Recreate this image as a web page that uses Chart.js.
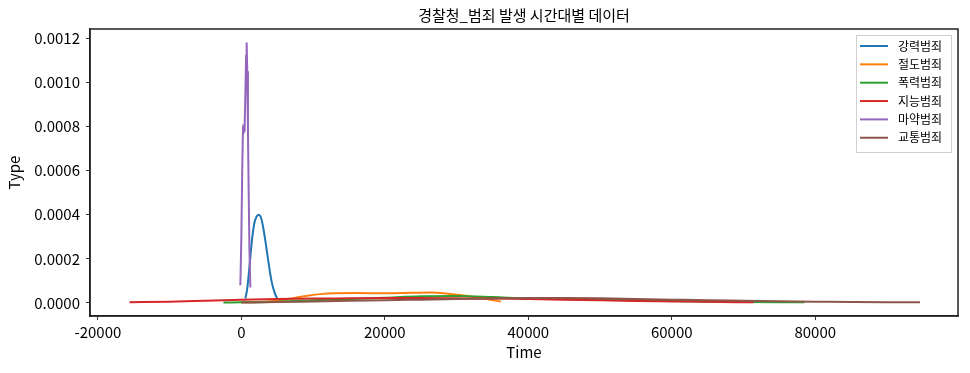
<!DOCTYPE html>
<html>
<head>
<meta charset="utf-8">
<script src="https://cdn.jsdelivr.net/npm/chart.js@4.4.1/dist/chart.umd.min.js"></script>
<style>
  html, body { margin: 0; padding: 0; background: #fff; }
  #wrap { width: 970px; height: 373px; }
</style>
</head>
<body>
<div id="wrap"><canvas id="c" width="970" height="373"></canvas></div>
<script>
// ---- Data ----
const chartTitle = '경찰청_범죄 발생 시간대별 데이터';
const xAxisTitle = 'Time';
const yAxisTitle = 'Type';
const seriesNames = ['강력범죄', '절도범죄', '폭력범죄', '지능범죄', '마약범죄', '교통범죄'];
const seriesColors = ['#1f77b4', '#ff7f0e', '#2ca02c', '#d62728', '#9467bd', '#8c564b'];
const xTickValues = [-20000, 0, 20000, 40000, 60000, 80000];
const yTickValues = [0, 0.0002, 0.0004, 0.0006, 0.0008, 0.0010, 0.0012];

const violentX = [560, 800, 1000, 1200, 1500, 1800, 2100, 2400, 2700, 3000, 3400, 3800, 4200, 4600, 5000, 5300];
const violentY = [0.00002, 0.00006, 0.00012, 0.00019, 0.00029, 0.00036, 0.00039, 0.00040, 0.00039, 0.00035, 0.00027, 0.00018, 0.00010, 0.00005, 0.00002, 0.00001];

const theftX = [0, 3000, 5000, 7000, 9000, 11000, 13000, 16000, 20000, 24000, 26500, 28500, 30500, 32500, 34500, 36200];
const theftY = [0.000003, 0.000005, 0.00001, 0.00002, 0.000032, 0.00004, 0.000044, 0.000045, 0.000044, 0.000046, 0.000047, 0.000043, 0.000036, 0.000027, 0.000016, 0.000006];

const assaultX = [-2500, 5000, 10000, 15000, 20000, 25000, 30000, 35000, 40000, 45000, 50000, 55000, 60000, 65000, 70000, 75000, 78500];
const assaultY = [0.000002, 0.000006, 0.000012, 0.000018, 0.000024, 0.00003, 0.000032, 0.000027, 0.00002, 0.000018, 0.000015, 0.000012, 0.000009, 0.000006, 0.000004, 0.000003, 0.000003];

const fraudX = [-15600, -10000, -5000, 0, 5000, 10000, 15000, 20000, 25000, 30000, 35000, 40000, 45000, 50000, 55000, 60000, 65000, 71400];
const fraudY = [0.000003, 0.000006, 0.00001, 0.000014, 0.000018, 0.00002, 0.000021, 0.000022, 0.000022, 0.000021, 0.00002, 0.000018, 0.000015, 0.000012, 0.000009, 0.000007, 0.000005, 0.000003];

const drugX = [-140, 0, 120, 230, 260, 330, 400, 460, 560, 660, 740, 820, 920, 1020, 1120, 1260];
const drugY = [0.00008, 0.00030, 0.00060, 0.00080, 0.00081, 0.00077, 0.00078, 0.00080, 0.00095, 0.00112, 0.00118, 0.00105, 0.00078, 0.00050, 0.00025, 0.00007];

const trafficX = [0, 5000, 10000, 15000, 20000, 25000, 30000, 35000, 40000, 45000, 50000, 55000, 60000, 65000, 70000, 75000, 80000, 85000, 90000, 94600];
const trafficY = [0.000002, 0.000004, 0.000007, 0.00001, 0.000012, 0.000015, 0.000018, 0.00002, 0.000022, 0.000022, 0.000021, 0.000018, 0.000015, 0.000012, 0.00001, 0.000008, 0.000006, 0.000004, 0.000003, 0.000003];

const seriesX = [violentX, theftX, assaultX, fraudX, drugX, trafficX];
const seriesY = [violentY, theftY, assaultY, fraudY, drugY, trafficY];

// ---- Build ----
const FONT = "'Noto Sans CJK KR', 'Noto Sans', sans-serif";
const datasets = seriesNames.map((name, i) => ({
  label: name,
  data: seriesX[i].map((x, k) => ({ x: x, y: seriesY[i][k] })),
  borderColor: seriesColors[i],
  backgroundColor: seriesColors[i],
  borderWidth: 2,
  pointRadius: 0,
  fill: false,
  tension: i === 4 ? 0 : 0.4,
  cubicInterpolationMode: i === 4 ? 'default' : 'monotone',
  order: seriesNames.length - i
}));

const framePlugin = {
  id: 'frame',
  afterDraw(chart) {
    const ctx = chart.ctx;
    const a = chart.chartArea;
    ctx.save();
    ctx.resetTransform ? null : null;
    // axes frame (all four spines)
    ctx.beginPath();
    ctx.lineWidth = 1.5;
    ctx.strokeStyle = '#222222';
    ctx.rect(a.left, a.top, a.right - a.left, a.bottom - a.top);
    ctx.stroke();
    // title
    ctx.fillStyle = '#000';
    ctx.font = "15px " + FONT;
    ctx.textAlign = 'center';
    ctx.textBaseline = 'middle';
    ctx.fillText(chartTitle, (a.left + a.right) / 2, 15);
    // legend
    const bx = 856, by = 35, bw = 95, bh = 117;
    ctx.fillStyle = 'rgba(255,255,255,0.8)';
    ctx.fillRect(bx, by, bw, bh);
    ctx.strokeStyle = '#d0d0d0';
    ctx.lineWidth = 1;
    ctx.strokeRect(bx + 0.5, by + 0.5, bw, bh);
    ctx.font = "12px " + FONT;
    ctx.textAlign = 'left';
    seriesNames.forEach((name, i) => {
      const y = 46 + i * 18.35;
      ctx.strokeStyle = seriesColors[i];
      ctx.lineWidth = 2;
      ctx.beginPath();
      ctx.moveTo(860, y);
      ctx.lineTo(888, y);
      ctx.stroke();
      ctx.fillStyle = '#000';
      ctx.fillText(name, 898, y);
    });
    ctx.restore();
  }
};

new Chart(document.getElementById('c'), {
  type: 'line',
  data: { datasets: datasets },
  options: {
    responsive: false,
    devicePixelRatio: 1,
    animation: false,
    layout: { padding: { left: 0, top: 29, right: 12, bottom: 0 } },
    plugins: { legend: { display: false }, title: { display: false }, tooltip: { enabled: false } },
    scales: {
      x: {
        type: 'linear',
        min: -21100,
        max: 99900,
        afterBuildTicks(scale) { scale.ticks = xTickValues.map(v => ({ value: v })); },
        afterFit(scale) { scale.height = 57; },
        grid: { drawOnChartArea: false, drawTicks: true, tickLength: 4, color: '#333' },
        border: { display: true, color: '#222', width: 1.5 },
        ticks: { color: '#000', font: { family: FONT, size: 15 }, padding: 3, maxRotation: 0,
                 callback: v => String(v) },
        title: { display: true, text: xAxisTitle, color: '#000', font: { family: FONT, size: 15 }, padding: { top: 0, bottom: 12 } }
      },
      y: {
        type: 'linear',
        min: -0.0000591,
        max: 0.001241,
        afterBuildTicks(scale) { scale.ticks = yTickValues.map(v => ({ value: v })); },
        afterFit(scale) { scale.width = 90; },
        grid: { drawOnChartArea: false, drawTicks: true, tickLength: 4, color: '#333' },
        border: { display: true, color: '#222', width: 1.5 },
        ticks: { color: '#000', font: { family: FONT, size: 15 }, padding: 6,
                 callback: v => Number(v).toFixed(4) },
        title: { display: true, text: yAxisTitle, color: '#000', font: { family: FONT, size: 15 }, padding: { top: 5, bottom: 0 } }
      }
    }
  },
  plugins: [framePlugin]
});
</script>
</body>
</html>
